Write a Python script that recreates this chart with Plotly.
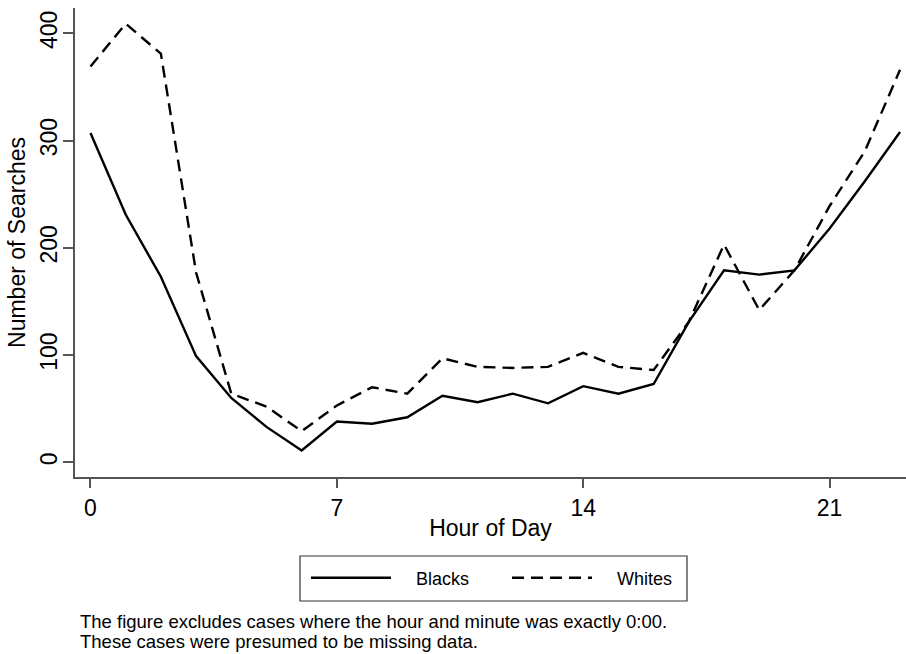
import plotly.graph_objects as go

hours = list(range(24))
blacks = [307, 231, 173, 99, 60, 33, 11, 38, 36, 42, 62, 56, 64, 55, 71, 64, 73, 131,
          179, 175, 179, 218, 262, 308]
whites = [369, 409, 381, 177, 64, 52, 29, 53, 70, 64, 97, 89, 88, 89, 102, 89, 86, 131,
          203, 142, 179, 239, 290, 366]
xticks = [0, 7, 14, 21]
yticks = [0, 100, 200, 300, 400]
notes = ["The figure excludes cases where the hour and minute was exactly 0:00.",
         "These cases were presumed to be missing data."]

FONT = "Liberation Sans, Arial, Helvetica, sans-serif"
AX = "#555555"
PAD = "\u00a0\u00a0\u00a0\u00a0"

fig = go.Figure()
fig.add_trace(go.Scatter(x=hours, y=blacks, mode="lines", name=PAD + "Blacks",
                         line=dict(color="black", width=2.4)))
fig.add_trace(go.Scatter(x=hours, y=whites, mode="lines", name=PAD + "Whites",
                         line=dict(color="black", width=2.4, dash="12px,7px")))

H = 469.0
W = 831.0
def py(pix):
    return -(pix - 477) / H
def px(pix):
    return (pix - 75) / W

fig.update_layout(
    width=906, height=654,
    margin=dict(l=75, r=0, t=8, b=177, autoexpand=False),
    paper_bgcolor="white", plot_bgcolor="white",
    font=dict(family=FONT, color="black", size=23),
    showlegend=True,
    legend=dict(orientation="h", x=px(507), xanchor="center", y=py(578), yanchor="middle",
                font=dict(size=18, family=FONT), bgcolor="rgba(0,0,0,0)",
                itemwidth=80, entrywidth=106, tracegroupgap=0),
    xaxis=dict(range=[-0.44, 23.17], tickmode="array", tickvals=xticks,
               ticktext=[str(v) for v in xticks], automargin=False,
               showgrid=False, zeroline=False, showline=True, linecolor=AX, linewidth=1.5,
               ticks="outside", ticklen=9, tickwidth=1.5, tickcolor=AX,
               tickfont=dict(size=23), ticklabelstandoff=1,
               title=dict(text="Hour of Day", font=dict(size=23), standoff=0)),
    yaxis=dict(range=[-13.7, 423.6], tickmode="array", tickvals=yticks,
               ticktext=[str(v) for v in yticks], tickangle=-90, automargin=False,
               showgrid=False, zeroline=False, showline=True, linecolor=AX, linewidth=1.5,
               ticks="outside", ticklen=10, tickwidth=1.5, tickcolor=AX,
               tickfont=dict(size=23), ticklabelstandoff=-3,
               title=dict(text="Number of Searches", font=dict(size=23), standoff=4)),
    shapes=[dict(type="rect", xref="paper", yref="paper",
                 x0=px(300), x1=px(687), y0=py(601), y1=py(556),
                 line=dict(color="#333333", width=1.2), fillcolor="rgba(0,0,0,0)")],
    annotations=[dict(xref="paper", yref="paper", x=px(78), y=py(621 + 20 * i),
                      xanchor="left", yanchor="middle", align="left", showarrow=False,
                      text=t, font=dict(size=18.5, family=FONT))
                 for i, t in enumerate(notes)],
)

fig.write_html("out.html", config={"displayModeBar": False},
               post_script="document.body.style.margin='0px';document.body.style.overflow='hidden';")
